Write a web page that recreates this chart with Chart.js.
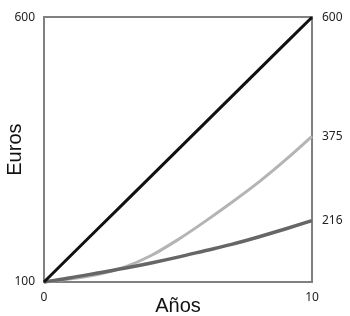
<!DOCTYPE html>
<html><head><meta charset="utf-8">
<script src="https://cdn.jsdelivr.net/npm/chart.js@4"></script>
<style>html,body{margin:0;padding:0;background:#fff}canvas{display:block}</style>
</head><body>
<canvas id="c" width="350" height="316"></canvas>
<script>
const years = [0,1,2,3,4,5,6,7,8,9,10];
const simpleSeries = [100,150,200,250,300,350,400,450,500,550,600];
const lightSeries = [100,106,114,128,150,180,214,250,288,330,375];
const darkSeries = [100,108,117,126,136,147,159,171,185,200,216];
const leftTicks = [100,600];
const rightTicks = [216,375,600];
const xTicks = [0,10];

const tickFont = {family:"'Noto Sans', 'Open Sans', sans-serif", size:12};
const titleFont = {family:"'Liberation Sans', Arial, sans-serif", size:20, lineHeight:1};
const axisColor = '#808080';

function pts(vals){ return years.map((x,i)=>({x:x,y:vals[i]})); }

new Chart(document.getElementById('c'), {
  type:'line',
  data:{datasets:[
    {data:pts(simpleSeries), borderColor:'#111', borderWidth:3, pointRadius:0, order:0, clip:4},
    {data:pts(darkSeries), borderColor:'#666', borderWidth:3.5, pointRadius:0, cubicInterpolationMode:'monotone', order:1, clip:4},
    {data:pts(lightSeries), borderColor:'#b4b4b4', borderWidth:3, pointRadius:0, cubicInterpolationMode:'monotone', order:2, clip:4}
  ]},
  options:{
    responsive:false, animation:false,
    layout:{padding:{top:15,left:0,right:0,bottom:0}},
    plugins:{legend:{display:false}, tooltip:{enabled:false}},
    scales:{
      x:{type:'linear', position:'bottom', min:0, max:10,
        afterBuildTicks:s=>{s.ticks = xTicks.map(v=>({value:v}));},
        afterFit:s=>{s.height=34;},
        grid:{display:false, drawTicks:false},
        border:{display:true, color:axisColor, width:2},
        ticks:{padding:8, color:'#222', font:tickFont, maxRotation:0, autoSkip:false},
        title:{display:true, text:'Años', color:'#111', font:titleFont, padding:{top:0,bottom:0}}
      },
      x2:{type:'linear', position:'top', min:0, max:10,
        afterFit:s=>{s.height=0;},
        grid:{display:false, drawTicks:false},
        border:{display:true, color:axisColor, width:2},
        ticks:{display:false}
      },
      y:{type:'linear', position:'left', min:100, max:600,
        afterBuildTicks:s=>{s.ticks = leftTicks.map(v=>({value:v}));},
        afterFit:s=>{s.width=44;},
        grid:{display:false, drawTicks:false},
        border:{display:true, color:axisColor, width:2},
        ticks:{padding:9, color:'#222', font:tickFont, autoSkip:false},
        title:{display:true, text:'Euros', color:'#111', font:titleFont, padding:{top:5,bottom:0}}
      },
      y2:{type:'linear', position:'right', min:100, max:600,
        afterBuildTicks:s=>{s.ticks = rightTicks.map(v=>({value:v}));},
        afterFit:s=>{s.width=38;},
        grid:{display:false, drawTicks:false},
        border:{display:true, color:axisColor, width:2},
        ticks:{padding:10, color:'#222', font:tickFont, autoSkip:false}
      }
    }
  }
});
</script>
</body></html>
